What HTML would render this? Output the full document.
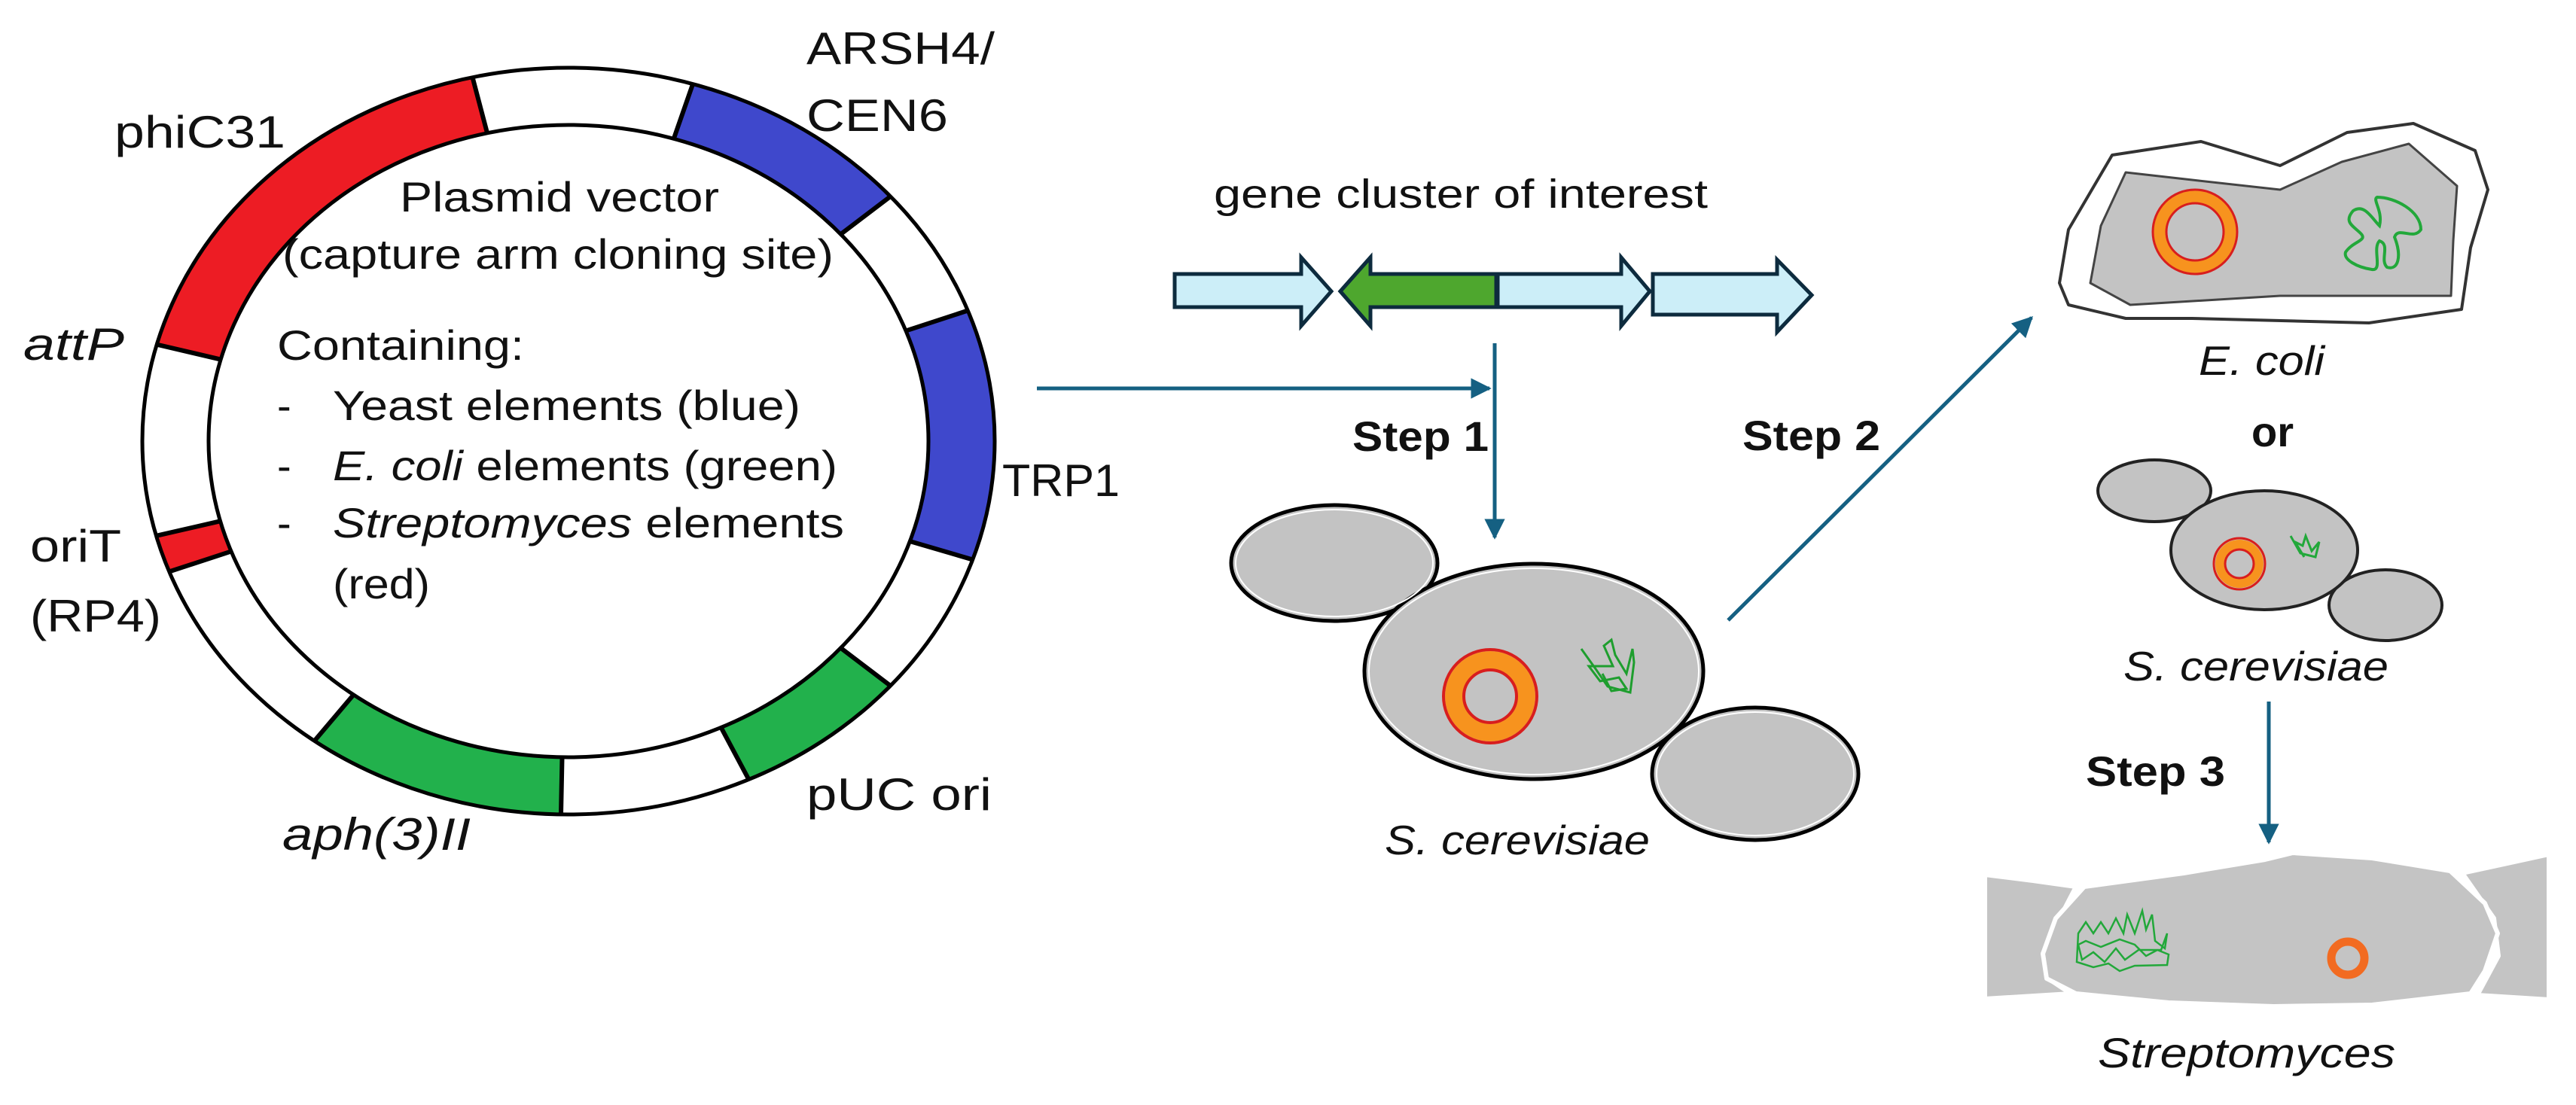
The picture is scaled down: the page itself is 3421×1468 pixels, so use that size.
<!DOCTYPE html>
<html><head><meta charset="utf-8"><style>
html,body{margin:0;padding:0;background:#fff;width:3421px;height:1468px;overflow:hidden}
svg{display:block}
text{font-family:"Liberation Sans",sans-serif;fill:#111}
.b{font-weight:bold}
.i{font-style:italic}
</style></head><body>
<svg width="3421" height="1468" viewBox="0 0 3421 1468" xmlns="http://www.w3.org/2000/svg">
<defs>
<clipPath id="ring"><path fill-rule="evenodd" clip-rule="evenodd" d="M189,586 a566,496 0 1,0 1132,0 a566,496 0 1,0 -1132,0 Z M277,586 a478,420 0 1,0 956,0 a478,420 0 1,0 -956,0 Z"/></clipPath>
<marker id="ah" viewBox="0 0 10 10" refX="9" refY="5" markerWidth="5.5" markerHeight="5.5" orient="auto" markerUnits="strokeWidth"><path d="M0,0 L10,5 L0,10 Z" fill="#156082"/></marker>
</defs>

<ellipse cx="755" cy="586" rx="566" ry="496" fill="#fff"/>
<g clip-path="url(#ring)" stroke="#000" stroke-width="6">
<polygon points="755,586 99,432 283,158 602,6" fill="#ED1C24"/>
<polygon points="755,586 953,17 1125,87 1268,196" fill="#3F48CC"/>
<polygon points="755,586 1391,378 1434,576 1399,775" fill="#3F48CC"/>
<polygon points="755,586 1268,976 1164,1061 1042,1125" fill="#22B14C"/>
<polygon points="755,586 743,1181 536,1149 350,1064" fill="#22B14C"/>
<polygon points="755,586 119,794 98,737" fill="#ED1C24"/>
</g>
<ellipse cx="755" cy="586" rx="566" ry="496" fill="none" stroke="#000" stroke-width="5"/>
<ellipse cx="755" cy="586" rx="478" ry="420" fill="none" stroke="#000" stroke-width="5"/>

<g font-size="56">
<text x="531" y="281" textLength="424" lengthAdjust="spacingAndGlyphs">Plasmid vector</text>
<text x="375" y="357" textLength="732" lengthAdjust="spacingAndGlyphs">(capture arm cloning site)</text>
<text x="368" y="478" textLength="328" lengthAdjust="spacingAndGlyphs">Containing:</text>
<text x="368" y="558">-</text><text x="368" y="638">-</text><text x="368" y="714">-</text>
<text x="442" y="558" textLength="621" lengthAdjust="spacingAndGlyphs">Yeast elements (blue)</text>
<text x="442" y="638" textLength="670" lengthAdjust="spacingAndGlyphs"><tspan font-style="italic">E. coli</tspan> elements (green)</text>
<text x="442" y="714" textLength="679" lengthAdjust="spacingAndGlyphs"><tspan font-style="italic">Streptomyces</tspan> elements</text>
<text x="442" y="795" textLength="129" lengthAdjust="spacingAndGlyphs">(red)</text>
</g>
<g font-size="60">
<text x="152" y="196" textLength="227" lengthAdjust="spacingAndGlyphs">phiC31</text>
<text x="1071" y="85" textLength="250" lengthAdjust="spacingAndGlyphs">ARSH4/</text>
<text x="1071" y="174" textLength="188" lengthAdjust="spacingAndGlyphs">CEN6</text>
<text class="i" x="31" y="478" textLength="134" lengthAdjust="spacingAndGlyphs">attP</text>
<text x="40" y="746" textLength="121" lengthAdjust="spacingAndGlyphs">oriT</text>
<text x="40" y="839" textLength="174" lengthAdjust="spacingAndGlyphs">(RP4)</text>
<text class="i" x="375" y="1129" textLength="250" lengthAdjust="spacingAndGlyphs">aph(3)II</text>
<text x="1071" y="1076" textLength="246" lengthAdjust="spacingAndGlyphs">pUC ori</text>
<text x="1331" y="659" textLength="156" lengthAdjust="spacingAndGlyphs">TRP1</text>
</g>

<text x="1612" y="276" font-size="54" textLength="656" lengthAdjust="spacingAndGlyphs">gene cluster of interest</text>
<g stroke="#0D2B3E" stroke-width="5" stroke-linejoin="miter">
<polygon points="1560,364 1728,364 1728,342 1768,387 1728,433 1728,408 1560,408" fill="#CCEEF8"/>
<polygon points="1780,387 1820,342 1820,364 2153,364 2153,342 2191,387 2153,433 2153,408 1820,408 1820,433" fill="#CCEEF8"/>
<polygon points="1780,387 1820,342 1820,364 1987,364 1987,408 1820,408 1820,433" fill="#4EA72E"/>
<line x1="1988" y1="364" x2="1988" y2="408" stroke-width="7"/>
<polygon points="2195,364 2360,364 2360,345 2406,392 2360,441 2360,418 2195,418" fill="#CCEEF8"/>
</g>

<g stroke="#156082" stroke-width="5" fill="none">
<line x1="1377" y1="516" x2="1978" y2="516" marker-end="url(#ah)"/>
<line x1="1985" y1="456" x2="1985" y2="714" marker-end="url(#ah)"/>
<line x1="2295" y1="824" x2="2698" y2="422" marker-end="url(#ah)"/>
<line x1="3013" y1="932" x2="3013" y2="1119" marker-end="url(#ah)"/>
</g>
<g font-size="56">
<text class="b" x="1796" y="599" textLength="181" lengthAdjust="spacingAndGlyphs">Step 1</text>
<text class="b" x="2314" y="598" textLength="183" lengthAdjust="spacingAndGlyphs">Step 2</text>
<text class="b" x="2770" y="1044" textLength="185" lengthAdjust="spacingAndGlyphs">Step 3</text>
<text class="b" x="2990" y="593" textLength="56" lengthAdjust="spacingAndGlyphs">or</text>
</g>

<g fill="#C3C3C3" stroke="#000" stroke-width="5">
<ellipse cx="1772" cy="748" rx="137" ry="77"/>
<ellipse cx="2331" cy="1028" rx="137" ry="88"/>
<ellipse cx="2037" cy="892" rx="225" ry="143"/>
</g>
<g fill="none" stroke="#fff" stroke-width="2">
<ellipse cx="1772" cy="748" rx="131" ry="71"/>
<ellipse cx="2331" cy="1028" rx="131" ry="82"/>
<ellipse cx="2037" cy="892" rx="219" ry="137"/>
</g>
<circle cx="1979" cy="925" r="48" fill="none" stroke="#F7931E" stroke-width="24"/>
<circle cx="1979" cy="925" r="62" fill="none" stroke="#D81E1E" stroke-width="4"/>
<circle cx="1979" cy="925" r="35" fill="none" stroke="#D81E1E" stroke-width="4"/>
<path d="M2100,862 L2120,890 L2135,912 L2165,920 L2170,880 L2168,862 L2160,895 L2145,870 L2140,850 L2130,858 L2142,885 L2110,885 L2125,905 L2150,900 L2160,915 L2140,918 L2128,895" fill="none" stroke="#1E9E2E" stroke-width="3"/>
<text class="i" x="1839" y="1135" font-size="55" textLength="352" lengthAdjust="spacingAndGlyphs">S. cerevisiae</text>

<path d="M2735,376 L2747,305 L2805,206 L2923,188 L3028,220 L3117,176 L3205,164 L3287,200 L3304,252 L3281,329 L3269,411 L3146,429 L2911,423 L2823,423 L2747,405 Z" fill="#fff" stroke="#333" stroke-width="4" stroke-linejoin="round"/>
<path d="M2776,376 L2790,300 L2823,229 L2920,240 L3028,252 L3110,215 L3199,191 L3263,247 L3258,320 L3255,393 L3028,393 L2829,405 Z" fill="#C3C3C3" stroke="#444" stroke-width="3" stroke-linejoin="round"/>
<circle cx="2915" cy="308" r="47" fill="none" stroke="#F7931E" stroke-width="18"/>
<circle cx="2915" cy="308" r="56" fill="none" stroke="#D81E1E" stroke-width="3"/>
<circle cx="2915" cy="308" r="38" fill="none" stroke="#D81E1E" stroke-width="3"/>
<path d="M3125,280 C3140,270 3150,290 3160,300 C3165,280 3150,265 3157,262 C3180,262 3215,280 3215,305 C3205,320 3185,300 3180,315 C3190,340 3185,360 3170,355 C3160,345 3175,325 3160,320 C3150,330 3165,360 3150,358 C3130,355 3112,345 3115,335 C3125,320 3145,320 3135,310 C3125,300 3112,295 3125,280 Z" fill="none" stroke="#22A83A" stroke-width="4"/>
<text class="i" x="2920" y="498" font-size="55" textLength="167" lengthAdjust="spacingAndGlyphs">E. coli</text>

<g fill="#C3C3C3" stroke="#222" stroke-width="4">
<ellipse cx="2861" cy="652" rx="75" ry="41"/>
<ellipse cx="3168" cy="804" rx="75" ry="47"/>
<ellipse cx="3007" cy="731" rx="124" ry="79"/>
</g>
<circle cx="2974" cy="749" r="26" fill="none" stroke="#F7931E" stroke-width="12"/>
<circle cx="2974" cy="749" r="34" fill="none" stroke="#D81E1E" stroke-width="3"/>
<circle cx="2974" cy="749" r="19" fill="none" stroke="#D81E1E" stroke-width="3"/>
<path d="M3042,712 L3055,735 L3075,740 L3080,720 L3070,732 L3062,712 L3058,725 L3048,720 L3060,740" fill="none" stroke="#22A83A" stroke-width="3"/>
<text class="i" x="2820" y="904" font-size="55" textLength="352" lengthAdjust="spacingAndGlyphs">S. cerevisiae</text>

<g fill="#C4C4C4" stroke="#fff" stroke-width="6" stroke-linejoin="round">
<path d="M2636,1162 L2700,1170 L2757,1178 L2730,1230 L2713,1267 L2720,1300 L2750,1320 L2636,1327 Z"/>
<path d="M3270,1160 L3385,1135 L3385,1328 L3290,1322 L3318,1270 L3312,1220 Z"/>
<path d="M2768,1178 L2900,1160 L3008,1142 L3045,1133 L3150,1140 L3254,1157 L3300,1200 L3317,1240 L3300,1290 L3281,1320 L3150,1335 L3019,1337 L2880,1332 L2757,1320 L2718,1300 L2713,1267 L2730,1220 Z"/>
</g>
<circle cx="3118" cy="1273" r="22" fill="none" stroke="#F26B21" stroke-width="11"/>
<path d="M2760,1240 L2770,1225 L2780,1240 L2790,1225 L2800,1240 L2810,1220 L2820,1240 L2825,1215 L2835,1240 L2845,1210 L2850,1235 L2858,1215 L2862,1250 L2875,1260 L2878,1240 L2870,1262 L2840,1262 L2822,1275 L2810,1260 L2795,1278 L2780,1265 L2765,1275 L2760,1255 L2770,1250 L2790,1258 L2815,1248 L2835,1255 L2850,1270 L2865,1262 L2880,1268 L2878,1282 L2835,1283 L2815,1290 L2800,1280 L2780,1285 L2758,1278 Z" fill="none" stroke="#22A83A" stroke-width="2.5"/>
<text class="i" x="2786" y="1418" font-size="56" textLength="395" lengthAdjust="spacingAndGlyphs">Streptomyces</text>
</svg>
</body></html>
